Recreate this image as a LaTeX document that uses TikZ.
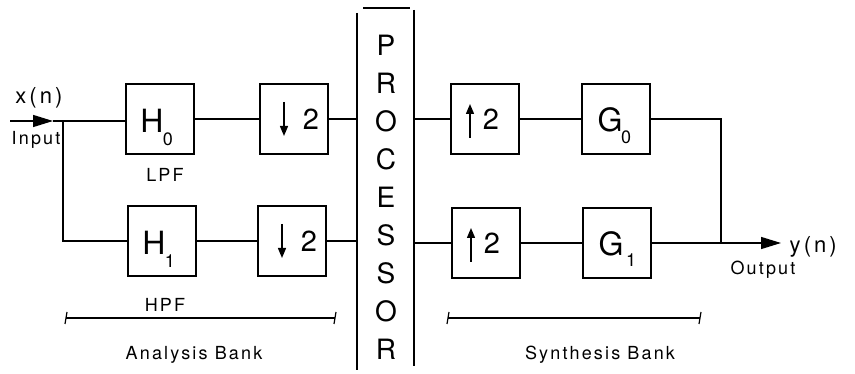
\documentclass[tikz,border=0pt]{standalone}
\usepackage{fontspec}
\setmainfont{TeX Gyre Heros}
\newfontfamily\spacedfont[LetterSpace=12]{TeX Gyre Heros}
\newfontfamily\widefont[LetterSpace=14]{TeX Gyre Heros}
\usetikzlibrary{arrows.meta}
\begin{document}
\begin{tikzpicture}[x=1pt,y=-1pt,
  line width=1.4pt,
  blk/.style={draw, line width=1.8pt, minimum width=68pt, minimum height=70pt, inner sep=0pt},
  big/.style={font=\fontsize{32}{34}\selectfont, inner sep=0pt},
  sub/.style={font=\fontsize{18}{20}\selectfont, inner sep=0pt},
  lbl/.style={font=\spacedfont\fontsize{18}{20}\selectfont, inner sep=0pt},
  sig/.style={font=\widefont\fontsize{22}{24}\selectfont, inner sep=0pt},
  two/.style={font=\fontsize{29}{31}\selectfont, inner sep=0pt},
  bigtip/.style={-{Triangle[length=20pt,width=12pt]}},
  smalltip/.style={-{Triangle[length=10pt,width=8pt]}},
  brk/.style={line width=1.2pt}
]
\useasboundingbox (0,0) rectangle (855,374);

% blocks
\node[blk] (H0) at (160,119) {};
\node[blk] (H1) at (162,241) {};
\node[blk] (D0) at (294,119) {};
\node[blk] (D1) at (292,241) {};
\node[blk] (U0) at (485,119) {};
\node[blk] (U1) at (486,243) {};
\node[blk] (G0) at (616,119) {};
\node[blk] (G1) at (617,243) {};

% block contents
\node[big] (h0t) at ([xshift=-8pt,yshift=-2pt]H0.center) {H};
\node[sub] (h0s) at ([xshift=8pt,yshift=-20pt]H0.center) {0};
\node[big] (h1t) at ([xshift=-8pt,yshift=-2pt]H1.center) {H};
\node[sub] (h1s) at ([xshift=8pt,yshift=-20pt]H1.center) {1};
\node[big] (g0t) at ([xshift=-6pt,yshift=-1pt]G0.center) {G};
\node[sub] (g0s) at ([xshift=10pt,yshift=-18pt]G0.center) {0};
\node[big] (g1t) at ([xshift=-6pt,yshift=-1pt]G1.center) {G};
\node[sub] (g1s) at ([xshift=14pt,yshift=-17pt]G1.center) {1};

\draw[smalltip] ([xshift=-10pt,yshift=17pt]D0.center) -- ([xshift=-10pt,yshift=-17pt]D0.center);
\node[two] (d0n) at ([xshift=17pt]D0.center) {2};
\draw[smalltip] ([xshift=-10pt,yshift=17pt]D1.center) -- ([xshift=-10pt,yshift=-17pt]D1.center);
\node[two] (d1n) at ([xshift=17pt]D1.center) {2};
\draw[smalltip] ([xshift=-15pt,yshift=-19pt]U0.center) -- ([xshift=-15pt,yshift=15pt]U0.center);
\node[two] (u0n) at ([xshift=6pt]U0.center) {2};
\draw[smalltip] ([xshift=-15pt,yshift=-19pt]U1.center) -- ([xshift=-15pt,yshift=15pt]U1.center);
\node[two] (u1n) at ([xshift=6pt]U1.center) {2};

% processor
\node[font=\fontsize{28}{38}\selectfont, align=center, inner sep=0pt] (proc) at (386,197) {P\\R\\O\\C\\E\\S\\S\\O\\R};
\coordinate (pl) at (357,13);
\coordinate (plb) at (357,370);
\coordinate (pr) at (414,10);
\coordinate (prb) at (414,366);
\coordinate (pt1) at (363,8);
\coordinate (pt2) at (410,8);
\draw (pl) -- (plb);
\draw (pr) -- (prb);
\draw[line width=1.8pt] (pt1) -- (pt2);

% input
\coordinate (in) at (10,121);
\coordinate (intip) at (53,121);
\coordinate (j) at (63,121);
\draw[bigtip] (in) -- (intip);
\draw (intip) -- (j) -- (j -| H0.west);
\draw (j) |- (H1.west);
\node[sig] (xn) at (39,98) {x(n)};
\node[lbl] (inl) at (36,140) {Input};
\node[lbl] (lpf) at (165,175) {LPF};
\node[lbl] (hpf) at (165,305) {HPF};

% analysis connections
\draw (H0.east) -- (D0.west);
\draw (H1.east) -- (D1.west);
\draw (D0.east) -- (D0.east -| pl);
\draw (D1.east) -- (D1.east -| pl);

% synthesis connections
\draw (U0.west -| pr) -- (U0.west);
\draw (U1.west -| pr) -- (U1.west);
\draw (U0.east) -- (G0.west);
\draw (U1.east) -- (G1.west);

% output
\coordinate (oj) at (721,243);
\coordinate (out) at (781,243);
\draw (G0.east) -| (oj);
\draw (G1.east) -- (oj);
\draw[bigtip] (oj) -- (out);
\node[sig, anchor=west] (yn) at ([xshift=8pt,yshift=-4pt]out) {y(n)};
\node[lbl] (outl) at (763,270) {Output};

% banks
\coordinate (a1) at (66,318);
\coordinate (a2) at (335,318);
\coordinate (s1) at (448,318);
\coordinate (s2) at (700,318);
\draw[brk] (a1) -- (a2);
\draw[brk] ([xshift=-1pt,yshift=-6pt]a1) -- ([xshift=1pt,yshift=6pt]a1);
\draw[brk] ([xshift=-1pt,yshift=-6pt]a2) -- ([xshift=1pt,yshift=6pt]a2);
\draw[brk] (s1) -- (s2);
\draw[brk] ([xshift=-1pt,yshift=-6pt]s1) -- ([xshift=1pt,yshift=6pt]s1);
\draw[brk] ([xshift=-1pt,yshift=-6pt]s2) -- ([xshift=1pt,yshift=6pt]s2);
\node[lbl] (ab) at (194,355) {Analysis Bank};
\node[lbl] (sb) at (600,355) {Synthesis Bank};
\end{tikzpicture}
\end{document}
